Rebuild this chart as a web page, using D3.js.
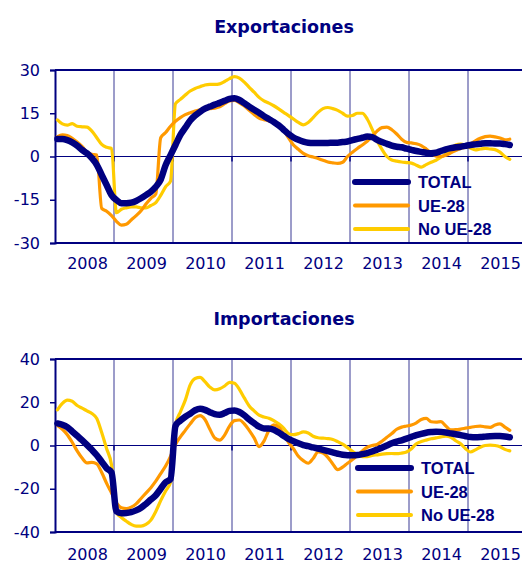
<!DOCTYPE html>
<html>
<head>
<meta charset="utf-8">
<script src="https://cdn.jsdelivr.net/npm/d3@7"></script>
<style>
  body { margin: 0; background: #fff; }
  svg { display: block; }
</style>
</head>
<body>
<div id="chart"></div>
<script>
// Exportaciones / Importaciones: tasas de variación mensuales, 2008-2015

const years = ["2008", "2009", "2010", "2011", "2012", "2013", "2014", "2015"];
const seriesNames = ["TOTAL", "UE-28", "No UE-28"];

// Exportaciones (ene 2008 - sep 2015)
const expTotal = [
  6.1, 6.1, 5.7, 4.9, 3.8, 2.3, 1.1, -0.6, -2.9, -6.4, -9.9, -13.4,
  -15.1, -16.2, -16.2, -16, -15.4, -14.5, -13.4, -12.2, -10.5, -8, -3, 0.5,
  4, 7.5, 10, 12.5, 14.2, 15.5, 16.6, 17.3, 18, 18.6, 19.3, 20,
  20.2, 19.6, 18.5, 17.3, 16.2, 15.2, 14, 13, 12, 10.8, 9.3, 7.8,
  6.6, 5.8, 5.2, 4.8, 4.7, 4.7, 4.7, 4.7, 4.8, 4.8, 5, 5.2,
  5.7, 6.1, 6.5, 6.9, 6.7, 5.8, 5, 4.4, 3.8, 3.4, 3.2, 2.7,
  2.3, 1.9, 1.6, 1.3, 1.1, 1.3, 1.9, 2.5, 2.9, 3.2, 3.4, 3.7,
  4, 4.2, 4.4, 4.6, 4.6, 4.5, 4.5, 4.3, 4,
];
const expUE = [
  6.9, 7.5, 7.3, 6.3, 5, 3.5, 1.5, 0.8, 0.5, -18, -19, -20.5,
  -22.5, -23.8, -23.5, -22, -20.5, -18.8, -16.5, -14.5, -13, 6.5, 8.3, 10.5,
  12.2, 13.5, 14.5, 15.2, 15.8, 16.2, 16.5, 16.6, 16.8, 17.2, 18.3, 19.3,
  19.5, 18.6, 17.5, 16, 14.6, 13.3, 12.8, 12.3, 12, 10.8, 9, 6.5,
  4, 2.5, 1.1, 0.3, -0.2, -0.7, -1.3, -1.9, -2.2, -2.4, -2, 0,
  1.5, 2.8, 4, 5.3, 7, 8.8, 10, 10.2, 9.3, 7.8, 6, 4.9,
  4.7, 4.4, 3.8, 2.6, 1.2, 0.1, 0, 0.4, 1.3, 2.1, 2.8, 3.3,
  4.3, 5.4, 6.3, 6.9, 7.1, 6.8, 6.4, 5.8, 6,
];
const expNoUE = [
  12.7, 11.3, 10.9, 11.4, 10.5, 10.3, 10.2, 8.8, 6.5, 4.2, 3.2, 2.8,
  -19.5, -18.3, -17.8, -17.5, -17.5, -17.8, -17.8, -17, -16, -13.5, -10.5, -8.5,
  18.3, 19.8, 21.3, 22.7, 23.6, 24.2, 24.8, 25, 25, 25.2, 26, 27,
  27.7, 27.2, 25.8, 24, 22.3, 20.5, 19.3, 18.5, 17.6, 16.5, 15.3, 14.2,
  13, 11.8, 11, 11.8, 13.5, 15.3, 16.6, 17, 16.6, 16, 15, 14,
  14.2, 15, 15, 13, 9.5, 5.5, 2.5, 0, -1.2, -1.6, -1.9, -2.1,
  -2.3, -3, -3.7, -2.8, -2, -1.3, -0.2, 0.9, 2.5, 4, 4.3, 3.8,
  2.9, 2.3, 2.6, 2.8, 2.6, 2.4, 1.5, 0, -1,
];

// Importaciones (ene 2008 - sep 2015)
const impTotal = [
  10.2, 9.6, 8.5, 6.5, 4.5, 2.5, 0.3, -2, -4.5, -7.5, -10.5, -12.5,
  -30.5, -31.3, -31.2, -30.8, -30, -28.8, -27, -25, -23, -20, -17, -15.5,
  9, 11.5, 13.3, 14.7, 16.3, 17, 16.5, 15.4, 14.5, 14.2, 15, 16,
  16.2, 15.5, 14, 12, 10.3, 8.7, 7.9, 7.9, 7.3, 6, 4.5, 3,
  2, 1, 0.2, -0.3, -0.9, -1.4, -2, -2.6, -3.2, -3.8, -4.3, -4.5,
  -4.5, -4.4, -4, -3.5, -2.8, -1.9, -1, 0, 1, 1.8, 2.4, 3.2,
  4, 4.8, 5.4, 5.9, 6.2, 6.4, 6.3, 6, 5.6, 5.2, 4.8, 4.3,
  3.9, 3.8, 3.9, 4.1, 4.3, 4.4, 4.4, 4.2, 3.8,
];
const impUE = [
  9.3, 7.5, 5, 1.5, -2.5, -5.8, -8, -7.8, -8.5, -12.5, -17.5, -22,
  -26.5, -28.8, -29.2, -28.5, -27, -24.5, -22, -19.5, -16.5, -13, -9.5, -5,
  0.5, 4, 7, 10, 12.8, 13.8, 12, 7.5, 3.5, 2.5, 4.8, 9,
  11.5, 11.8, 10, 7, 3.5, -0.5, 2, 7, 9.5, 8.5, 5.5, 1.5,
  -1.5, -5, -7, -8.2, -6, -3, -3.5, -5.5, -8.5, -11.2, -10, -8.2,
  -6.5, -4.5, -2.5, -0.8, 0, 0.5, 2, 3.8, 5.5, 7.5, 8.5, 9,
  9.5, 10.5, 12, 12.5, 11, 10.8, 11, 9, 7.2, 7.3, 7.6, 8,
  8.4, 8.8, 9, 8.6, 8.4, 9.5, 10, 8.5, 7,
];
const impNoUE = [
  16.5, 19.5, 21, 20.5, 18.5, 17.3, 16, 14.8, 12.5, 6, -1.5, -9,
  -31, -33.3, -35, -36.5, -37.3, -37.3, -36.5, -34.5, -30.5, -25.5, -21, -17,
  9.5, 15.5, 21, 28, 31, 31.5, 29.5, 27, 25.7, 26.2, 27.5, 29.2,
  28.8, 26, 22, 18.3, 16, 14, 13.2, 12.6, 11.5, 10, 8, 5.5,
  5, 5.5, 6.3, 5.8, 4.3, 3.6, 3.4, 3.2, 2.8, 1.8, 0.6, -1,
  -2.7, -4.3, -5.2, -5.2, -4.6, -4.3, -4, -3.8, -3.7, -3.8, -3.5, -3,
  -1.5, 0.8, 1.8, 2.5, 3.1, 3.5, 4, 4.3, 3.8, 2.2, 0.8, -1.5,
  -3, -2, -0.8, 0, 0.2, 0, -0.6, -1.8, -2.5,
];

const expTicks = [30, 15, 0, -15, -30];
const impTicks = [40, 20, 0, -20, -40];

const navy = "#000080";
const colors = ["#000080", "#FF9900", "#FFCC00"];
const widths = [6.5, 3.2, 3.2];

const svg = d3
  .select("#chart")
  .append("svg")
  .attr("width", 522)
  .attr("height", 563);

// x: months since Jan 2008, points sit in the middle of each month
const x = d3.scaleLinear().domain([0, 96]).range([55, 527]);

function drawPanel(opts) {
  const { title, titleY, top, bottom, ticks, series, yearY, legendY, legendX } = opts;

  const y = d3
    .scaleLinear()
    .domain([ticks[ticks.length - 1], ticks[0]])
    .range([bottom, top]);

  const g = svg.append("g");

  // Title
  svg
    .append("text")
    .attr("x", 284)
    .attr("y", titleY)
    .attr("text-anchor", "middle")
    .style("font-family", "DejaVu Sans, sans-serif")
    .style("font-size", "17.5px")
    .style("font-weight", "bold")
    .style("fill", navy)
    .text(title);

  // Year gridlines
  g.selectAll(".grid")
    .data(d3.range(12, 96, 12))
    .join("line")
    .attr("x1", (d) => x(d))
    .attr("x2", (d) => x(d))
    .attr("y1", top)
    .attr("y2", bottom)
    .attr("stroke", "#3a3a95")
    .attr("stroke-width", 1);

  // small ticks under the zero line
  g.selectAll(".zt")
    .data(d3.range(12, 96, 12))
    .join("line")
    .attr("x1", (d) => x(d))
    .attr("x2", (d) => x(d))
    .attr("y1", y(0))
    .attr("y2", y(0) + 5)
    .attr("stroke", navy)
    .attr("stroke-width", 1.5);

  // Zero line
  g.append("line")
    .attr("x1", x(0))
    .attr("x2", x(96))
    .attr("y1", y(0))
    .attr("y2", y(0))
    .attr("stroke", navy)
    .attr("stroke-width", 1);

  // Frame top / bottom
  g.selectAll(".hb")
    .data([top, bottom])
    .join("line")
    .attr("x1", x(0))
    .attr("x2", x(96))
    .attr("y1", (d) => d)
    .attr("y2", (d) => d)
    .attr("stroke", navy)
    .attr("stroke-width", 2);

  // Y axis (plain hyphen for negatives, as in the original)
  const yAxis = g
    .append("g")
    .attr("transform", `translate(${x(0)},0)`)
    .call(
      d3
        .axisLeft(y)
        .tickValues(ticks)
        .tickSize(5)
        .tickPadding(10)
        .tickFormat((d) => String(d))
    );
  yAxis.select(".domain").attr("stroke", navy).attr("stroke-width", 2);
  yAxis.selectAll(".tick line").attr("stroke", navy).attr("stroke-width", 1.5);
  yAxis
    .selectAll(".tick text")
    .style("font-family", "DejaVu Sans, sans-serif")
    .style("font-size", "16px")
    .style("fill", navy);

  // Year labels
  g.selectAll(".yr")
    .data(years)
    .join("text")
    .attr("x", (d, i) => x(i * 12 + 6) + 3)
    .attr("y", yearY)
    .attr("text-anchor", "middle")
    .style("font-family", "DejaVu Sans, sans-serif")
    .style("font-size", "16px")
    .style("fill", navy)
    .text((d) => d);

  // Lines (draw yellow, orange, then navy on top)
  const line = d3
    .line()
    .x((d, i) => x(i + 0.5))
    .y((d) => y(d))
    .curve(d3.curveMonotoneX);

  [2, 1, 0].forEach((k) => {
    g.append("path")
      .datum(series[k])
      .attr("d", line)
      .attr("fill", "none")
      .attr("stroke", colors[k])
      .attr("stroke-width", widths[k])
      .attr("stroke-linejoin", "round")
      .attr("stroke-linecap", "round");
  });

  // Legend
  const legend = g.append("g");
  seriesNames.forEach((name, k) => {
    const ly = legendY + k * 23.5;
    legend
      .append("line")
      .attr("x1", legendX)
      .attr("x2", legendX + 53)
      .attr("y1", ly)
      .attr("y2", ly)
      .attr("stroke", colors[k])
      .attr("stroke-width", k === 0 ? 6 : 4)
      .attr("stroke-linecap", "round");
    legend
      .append("text")
      .attr("x", legendX + 63)
      .attr("y", ly + 6)
      .style("font-family", "Liberation Sans, Arial, sans-serif")
      .style("font-size", "16.5px")
      .style("font-weight", "bold")
      .style("fill", navy)
      .text(name);
  });
}

drawPanel({
  title: "Exportaciones",
  titleY: 33,
  top: 70,
  bottom: 243,
  ticks: expTicks,
  series: [expTotal, expUE, expNoUE],
  yearY: 269,
  legendY: 182,
  legendX: 355,
});

drawPanel({
  title: "Importaciones",
  titleY: 325,
  top: 359,
  bottom: 532,
  ticks: impTicks,
  series: [impTotal, impUE, impNoUE],
  yearY: 560,
  legendY: 468,
  legendX: 358,
});
</script>
</body>
</html>
